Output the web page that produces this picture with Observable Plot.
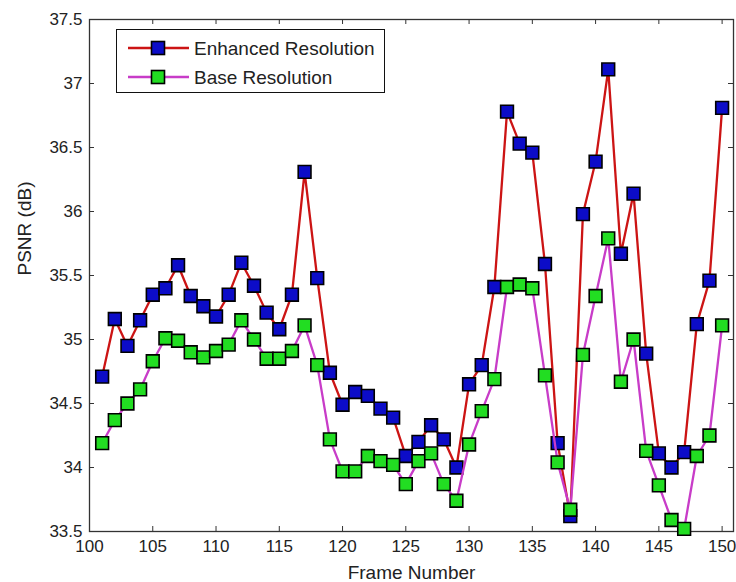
<!DOCTYPE html>
<html>
<head>
<meta charset="utf-8">
<script src="https://cdn.jsdelivr.net/npm/d3@7"></script>
<script src="https://cdn.jsdelivr.net/npm/@observablehq/plot@0.6"></script>
<style>
  body { margin: 0; background: #fff; }
  #wrap { position: relative; width: 736px; height: 582px; font-family: "Liberation Sans", Arial, sans-serif; }
  #legend { position: absolute; left: 116px; top: 29px; width: 267px; height: 62px; border: 1px solid #111; background: #fff; }
</style>
</head>
<body>
<div id="wrap"><div id="legend"></div></div>
<script>
// ---- data ----
const frames = [101,102,103,104,105,106,107,108,109,110,111,112,113,114,115,116,117,118,119,120,
                121,122,123,124,125,126,127,128,129,130,131,132,133,134,135,136,137,138,139,140,
                141,142,143,144,145,146,147,148,149,150];
const enhanced = [34.71,35.16,34.95,35.15,35.35,35.40,35.58,35.34,35.26,35.18,
                  35.35,35.60,35.42,35.21,35.08,35.35,36.31,35.48,34.74,34.49,
                  34.59,34.56,34.46,34.39,34.09,34.20,34.33,34.22,34.00,34.65,
                  34.80,35.41,36.78,36.53,36.46,35.59,34.19,33.62,35.98,36.39,
                  37.11,35.67,36.14,34.89,34.11,34.00,34.12,35.12,35.46,36.81];
const baseRes = [34.19,34.37,34.50,34.61,34.83,35.01,34.99,34.90,34.86,34.91,
                 34.96,35.15,35.00,34.85,34.85,34.91,35.11,34.80,34.22,33.97,
                 33.97,34.09,34.05,34.02,33.87,34.05,34.11,33.87,33.74,34.18,
                 34.44,34.69,35.41,35.43,35.40,34.72,34.04,33.67,34.88,35.34,
                 35.79,34.67,35.00,34.13,33.86,33.59,33.52,34.09,34.25,35.11];
const seriesNames = ["Enhanced Resolution", "Base Resolution"];
const xTicks = [100,105,110,115,120,125,130,135,140,145,150];
const yTicks = [33.5,34,34.5,35,35.5,36,36.5,37,37.5];

// ---- styles ----
const lineColors = ["#cc1414", "#c83cc8"];
const fillColors = ["#0c0cc8", "#22dd22"];

const W = 736, H = 582, mt = 19, mb = 51, ml = 89, mr = 3;
const innerH = H - mt - mb, innerW = W - ml - mr;
const font = "Liberation Sans, Arial, sans-serif";

const enh = frames.map((f, i) => ({f, v: enhanced[i]}));
const base = frames.map((f, i) => ({f, v: baseRes[i]}));

const chart = Plot.plot({
  width: W, height: H,
  marginTop: mt, marginBottom: mb, marginLeft: ml, marginRight: mr,
  style: {fontFamily: font, fontSize: "17px", color: "#222", background: "#fff", overflow: "visible"},
  x: {domain: [100, 150.9]},
  y: {domain: [33.5, 37.5]},
  marks: [
    Plot.axisX(xTicks, {tickSize: 0, tickPadding: 8, label: null, fontSize: 17, fill: "#222"}),
    Plot.axisY(yTicks, {tickSize: 0, tickPadding: 7, label: null, fontSize: 17, fill: "#222", tickFormat: d => String(d)}),
    Plot.ruleX(xTicks, {x: d => d, insetTop: innerH - 5, stroke: "#333"}),
    Plot.ruleX(xTicks, {x: d => d, insetBottom: innerH - 5, stroke: "#333"}),
    Plot.ruleY(yTicks, {y: d => d, insetRight: innerW - 5, stroke: "#333"}),
    Plot.ruleY(yTicks, {y: d => d, insetLeft: innerW - 5, stroke: "#333"}),
    Plot.frame({stroke: "#333", strokeWidth: 1.3}),
    Plot.line(enh, {x: "f", y: "v", stroke: lineColors[0], strokeWidth: 2.3}),
    Plot.dot(enh, {x: "f", y: "v", symbol: "square", r: 7.2, fill: fillColors[0], stroke: "#000", strokeWidth: 1.6}),
    Plot.line(base, {x: "f", y: "v", stroke: lineColors[1], strokeWidth: 2.3}),
    Plot.dot(base, {x: "f", y: "v", symbol: "square", r: 7.2, fill: fillColors[1], stroke: "#000", strokeWidth: 1.6}),
    Plot.text(["Frame Number"], {text: d => d, frameAnchor: "bottom", lineAnchor: "middle", dy: 41, fontSize: 19, fill: "#222"}),
    Plot.text(["PSNR (dB)"], {text: d => d, frameAnchor: "left", lineAnchor: "middle", dx: -65, rotate: -90, fontSize: 19, fill: "#222"})
  ]
});
const wrap = document.getElementById("wrap");
wrap.insertBefore(chart, wrap.firstChild);

// ---- legend (inside the axes, top-left) ----
const leg = d3.select("#legend").append("svg").attr("width", 267).attr("height", 62)
  .style("position", "absolute").style("left", 0).style("top", 0);
seriesNames.forEach((name, i) => {
  const cy = 18 + 29 * i;
  leg.append("line").attr("x1", 11).attr("x2", 72).attr("y1", cy).attr("y2", cy)
    .attr("stroke", lineColors[i]).attr("stroke-width", 2.3);
  leg.append("rect").attr("x", 41 - 6.5).attr("y", cy - 6.5).attr("width", 13).attr("height", 13)
    .attr("fill", fillColors[i]).attr("stroke", "#000").attr("stroke-width", 1.6);
  leg.append("text").attr("x", 77).attr("y", cy + 7).text(name)
    .attr("font-family", font).attr("font-size", 19).attr("fill", "#222");
});
</script>
</body>
</html>
